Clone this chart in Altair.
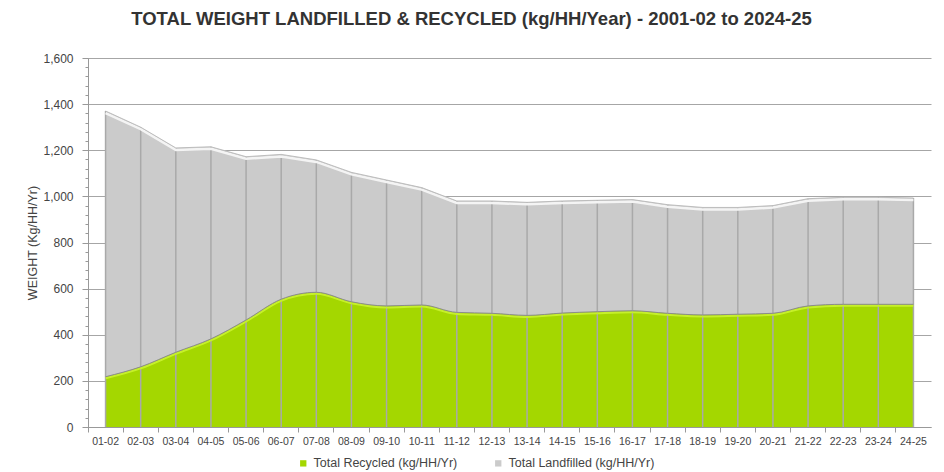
import altair as alt
import pandas as pd

years = ["01-02", "02-03", "03-04", "04-05", "05-06", "06-07", "07-08", "08-09",
         "09-10", "10-11", "11-12", "12-13", "13-14", "14-15", "15-16", "16-17",
         "17-18", "18-19", "19-20", "20-21", "21-22", "22-23", "23-24", "24-25"]
recycled = [218, 261, 324, 382, 464, 554, 584, 543, 525, 529, 497, 493,
            484, 494, 500, 504, 493, 486, 489, 493, 525, 532, 532, 532]
landfilled = [1152, 1039, 886, 833, 708, 628, 574, 561, 546, 509, 483, 487,
              490, 486, 483, 482, 471, 466, 463, 467, 465, 464, 464, 461]
y_major = [0, 200, 400, 600, 800, 1000, 1200, 1400, 1600]
y_minor = list(range(0, 1601, 40))

REC = "Total Recycled (kg/HH/Yr)"
LAND = "Total Landfilled (kg/HH/Yr)"
FONT = "Liberation Sans"

df = pd.DataFrame({"year": years, "recycled": recycled, "landfilled": landfilled})

W, H = 843, 369

xscale = alt.Scale(type="band", paddingInner=0, paddingOuter=0, domain=years)
yscale = alt.Scale(domain=[0, 1600], nice=False)
cscale = alt.Scale(domain=[REC, LAND], range=["#a4d700", "#cbcbcb"])

base = alt.Chart(df).transform_calculate(total="datum.recycled + datum.landfilled")

x_axis = alt.Axis(bandPosition=0, labelAngle=0,
                  labelFontSize=10.5, labelColor="#444", labelFont=FONT,
                  tickSize=5, tickColor="#999", domainColor="#999",
                  labelPadding=4, grid=False, labelOverlap=False)
x_enc = alt.X("year:N", scale=xscale, bandPosition=0.5, sort=years, title=None, axis=x_axis)

gray_area = base.mark_area(opacity=1, interpolate="linear").encode(
    x=x_enc,
    y=alt.Y("total:Q", scale=yscale, title="WEIGHT (Kg/HH/Yr)",
            axis=alt.Axis(values=y_major, format=",.0f", orient="left",
                          labelFontSize=12, labelColor="#444",
                          labelFont=FONT, titleFont=FONT, titleFontSize=12.5,
                          titleFontWeight="normal", titleColor="#444", titlePadding=3,
                          grid=True, gridColor="#a6a6a6", gridWidth=1,
                          tickSize=6, tickColor="#999", domainColor="#999", labelPadding=9)),
    color=alt.Color("s:N", scale=cscale, title=None,
                    legend=alt.Legend(orient="none", legendX=209, legendY=399,
                                      direction="horizontal", symbolType="square",
                                      symbolSize=40, symbolStrokeWidth=0,
                                      labelFontSize=12.5, labelColor="#444", labelFont=FONT,
                                      columnPadding=34, padding=0)),
).transform_calculate(s=f"'{LAND}'")

minor_ticks = base.mark_area(opacity=0).encode(
    x=x_enc,
    y=alt.Y("total:Q", scale=yscale,
            axis=alt.Axis(values=y_minor, labels=False, grid=False, domain=False,
                          orient="left", tickSize=3, tickColor="#999", title=None)),
)

green_area = base.mark_area(opacity=1, interpolate="monotone").encode(
    x=x_enc,
    y=alt.Y("recycled:Q", scale=yscale, axis=None),
    color=alt.Color("s:N", scale=cscale, legend=None),
).transform_calculate(s=f"'{REC}'")

rec_shadow = base.mark_line(color="#8c8c8c", strokeWidth=1, interpolate="monotone").encode(
    x=x_enc, y=alt.Y("recycled:Q", scale=yscale, axis=None))

rec_hi = base.mark_line(color="#c6f02a", strokeWidth=2, interpolate="monotone", yOffset=1.5).encode(
    x=x_enc, y=alt.Y("recycled:Q", scale=yscale, axis=None))

rules = base.mark_rule(color="#a9a9a9", strokeWidth=1.5).encode(
    x=x_enc, y=alt.Y("total:Q", scale=yscale, axis=None), y2=alt.datum(0))

tot_edge = base.mark_line(color="#bdbdbd", strokeWidth=1, interpolate="linear").encode(
    x=x_enc, y=alt.Y("total:Q", scale=yscale, axis=None))

tot_hi = base.mark_line(color="#f4f4f4", strokeWidth=2.5, interpolate="linear", yOffset=2).encode(
    x=x_enc, y=alt.Y("total:Q", scale=yscale, axis=None))

chart = alt.layer(
    gray_area, minor_ticks, green_area, rules, tot_hi, tot_edge, rec_hi, rec_shadow
).resolve_axis(y="independent").properties(
    width=W, height=H,
    autosize=alt.AutoSizeParams(type="none"),
    padding={"left": 80, "top": 50, "right": 5, "bottom": 50},
    title=alt.Title("TOTAL WEIGHT LANDFILLED & RECYCLED (kg/HH/Year) - 2001-02 to 2024-25",
                    fontSize=18.5, fontWeight="bold", color="#333", font=FONT,
                    anchor="middle", frame="group", dx=-38, offset=24),
).configure_view(stroke=None)

chart.save("out.html", embed_options={"renderer": "svg", "actions": False})
